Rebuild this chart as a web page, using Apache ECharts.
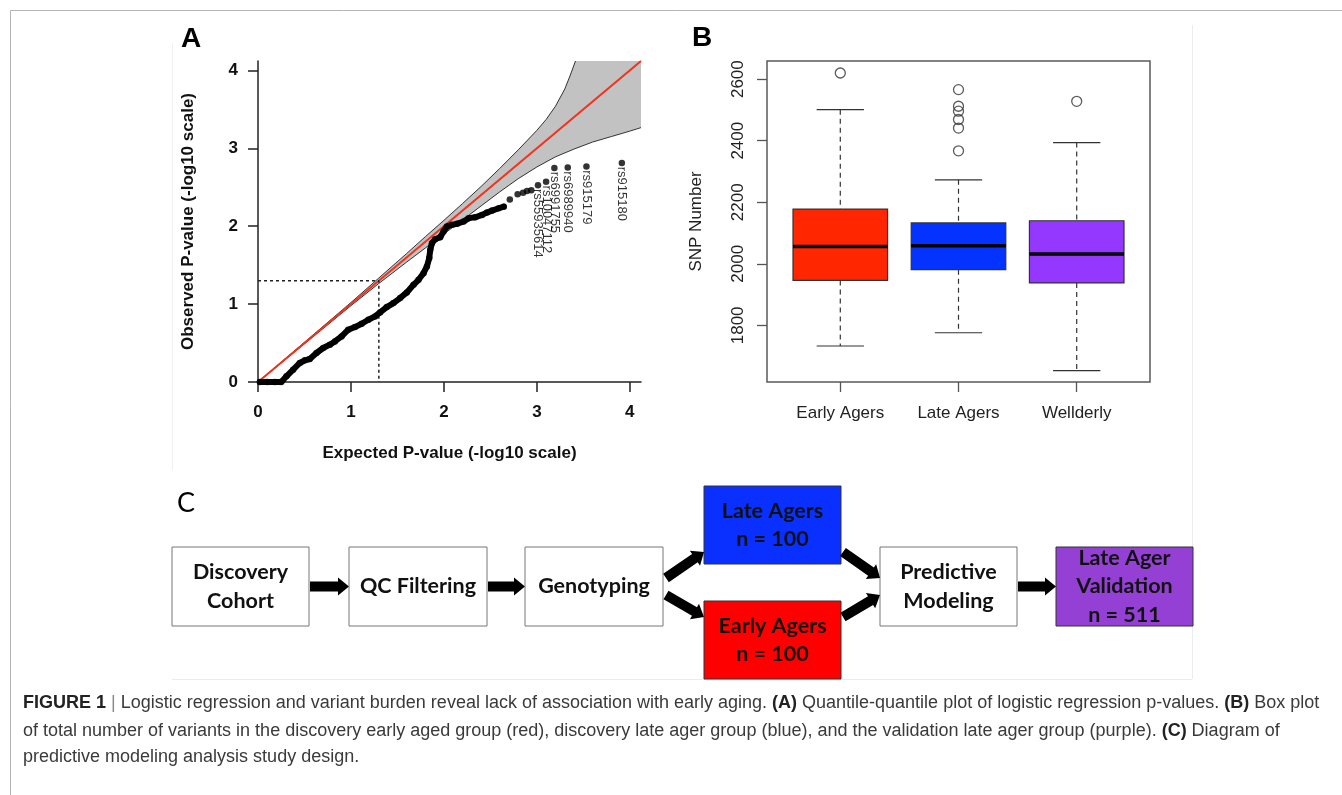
<!DOCTYPE html>
<html>
<head>
<meta charset="utf-8">
<title>Figure 1</title>
<script src="https://cdn.jsdelivr.net/npm/echarts@6/dist/echarts.min.js"></script>
<style>
  html, body { margin: 0; padding: 0; background: #fff; }
  #main { width: 1342px; height: 795px; }
</style>
</head>
<body>
<div id="main"></div>
<script>
// ---- A: QQ plot (-log10 p) ----
var qqExpected = [0.02, 0.1, 0.18, 0.25, 0.306, 0.378, 0.45, 0.504, 0.557, 0.629, 0.701, 0.773, 0.827, 0.899,
  0.971, 1.043, 1.115, 1.187, 1.259, 1.313, 1.385, 1.457, 1.529, 1.601, 1.673, 1.727, 1.781, 1.817, 1.842,
  1.853, 1.871, 1.906, 1.96, 1.996, 2.032, 2.086, 2.14, 2.212, 2.266, 2.338, 2.41, 2.464, 2.518, 2.59, 2.644];
var qqObserved = [0, 0, 0, 0, 0.073, 0.158, 0.244, 0.278, 0.295, 0.372, 0.436, 0.479, 0.521, 0.585,
  0.671, 0.705, 0.748, 0.799, 0.842, 0.893, 0.962, 1.013, 1.077, 1.15, 1.248, 1.312, 1.397, 1.483, 1.59,
  1.697, 1.782, 1.833, 1.859, 1.932, 1.996, 2.017, 2.03, 2.06, 2.103, 2.115, 2.145, 2.175, 2.2, 2.23, 2.25];
var tailExpected = [2.709, 2.793, 2.851, 2.894, 2.94];
var tailObserved = [2.343, 2.411, 2.428, 2.453, 2.462];
var snpIds = ['rs55935614', 'rs10047112', 'rs6991755', 'rs6989940', 'rs915179', 'rs915180'];
var snpExpected = [3.012, 3.099, 3.188, 3.332, 3.533, 3.914];
var snpObserved = [2.526, 2.569, 2.748, 2.753, 2.766, 2.812];
var bandUpper = [[0, 0], [0.5, 0.51], [1.0, 1.02], [1.3, 1.335], [1.6, 1.65], [1.8, 1.865], [2.0, 2.075],
  [2.2, 2.29], [2.4, 2.51], [2.6, 2.74], [2.8, 2.98], [3.0, 3.23], [3.1, 3.37], [3.2, 3.54], [3.3, 3.76],
  [3.36, 3.94], [3.415, 4.12]];
var bandLower = [[0, 0], [0.5, 0.49], [1.0, 0.98], [1.3, 1.265], [1.6, 1.54], [1.8, 1.72], [2.0, 1.9],
  [2.2, 2.08], [2.4, 2.26], [2.6, 2.44], [2.8, 2.61], [3.0, 2.76], [3.2, 2.89], [3.4, 2.99], [3.6, 3.08],
  [3.8, 3.15], [4.0, 3.22], [4.12, 3.265]];
var ticksA = [0, 1, 2, 3, 4];
var maxA = 4.12;
var pCut = 1.3;   // -log10(0.05)

// ---- B: SNP number per group ----
var groups = ['Early Agers', 'Late Agers', 'Wellderly'];
var whiskerLow = [1733, 1776, 1653];
var quartile1 = [1946, 1981, 1938];
var medians = [2056, 2059, 2032];
var quartile3 = [2178, 2133, 2140];
var whiskerHigh = [2501, 2273, 2394];
var outliers = [[2620], [2566, 2512, 2496, 2469, 2441, 2367], [2528]];
var boxColors = ['#ff2600', '#0433ff', '#9437ff'];
var ticksB = [1800, 2000, 2200, 2400, 2600];

var FONT = 'Liberation Sans, Arial, sans-serif';

var chart = echarts.init(document.getElementById('main'));

var qqPoints = qqExpected.map(function (x, i) { return [x, qqObserved[i]]; });
var tailPoints = tailExpected.map(function (x, i) { return [x, tailObserved[i]]; });
var snpPoints = snpIds.map(function (id, i) { return { name: id, value: [snpExpected[i], snpObserved[i]] }; });
var boxData = groups.map(function (g, i) {
  return [i + 1, whiskerLow[i], quartile1[i], medians[i], quartile3[i], whiskerHigh[i]];
});
var outlierData = [];
outliers.forEach(function (list, i) {
  list.forEach(function (v) { outlierData.push([i + 1, v]); });
});

// flowchart helpers (panel C)
function arrow(x1, y1, x2, y2) {
  var dx = x2 - x1, dy = y2 - y1, len = Math.sqrt(dx * dx + dy * dy);
  var ux = dx / len, uy = dy / len, nx = -uy, ny = ux;
  var hl = 11, sw = 5, hw = 9;
  var bx = x2 - ux * hl, by = y2 - uy * hl;
  return {
    type: 'polygon',
    shape: { points: [[x1 + nx * sw, y1 + ny * sw], [bx + nx * sw, by + ny * sw], [bx + nx * hw, by + ny * hw],
      [x2, y2], [bx - nx * hw, by - ny * hw], [bx - nx * sw, by - ny * sw], [x1 - nx * sw, y1 - ny * sw]] },
    style: { fill: '#000' }
  };
}
function box(x, y, w, h, fill, stroke, text) {
  return [{
    type: 'rect', shape: { x: x, y: y, width: w, height: h },
    style: { fill: fill, stroke: stroke, lineWidth: 1 }
  }, {
    type: 'text', x: x + w / 2, y: y + h / 2,
    style: { text: text, fill: '#111', fontFamily: 'Lato, sans-serif', fontWeight: 'bold', fontSize: 21.5,
      lineHeight: 28.5, align: 'center', verticalAlign: 'middle' }
  }];
}
function captionLine(y, text) {
  return {
    type: 'text', x: 23, y: y,
    style: {
      text: text, fontFamily: FONT, fontSize: 18, fill: '#3a3a3a', verticalAlign: 'middle',
      rich: {
        b: { fontFamily: FONT, fontSize: 18, fontWeight: 'bold', fill: '#222' },
        s: { fontFamily: FONT, fontSize: 18, fill: '#888' }
      }
    }
  };
}

var graphics = [
  { type: 'line', shape: { x1: 10.5, y1: 10.5, x2: 1342, y2: 10.5 }, style: { stroke: '#b4b4b4', lineWidth: 1 } },
  { type: 'line', shape: { x1: 10.5, y1: 10.5, x2: 10.5, y2: 795 }, style: { stroke: '#b4b4b4', lineWidth: 1 } },
  { type: 'line', shape: { x1: 172.5, y1: 43, x2: 172.5, y2: 470 }, style: { stroke: '#f0f0f0', lineWidth: 1 } },
  { type: 'line', shape: { x1: 1192.5, y1: 25, x2: 1192.5, y2: 679 }, style: { stroke: '#ececec', lineWidth: 1 } },
  { type: 'line', shape: { x1: 172, y1: 679.5, x2: 1192, y2: 679.5 }, style: { stroke: '#ececec', lineWidth: 1 } },
  { type: 'text', x: 191, y: 39, style: { text: 'A', fontFamily: FONT, fontWeight: 'bold', fontSize: 28,
    fill: '#000', align: 'center', verticalAlign: 'middle' } },
  { type: 'text', x: 702, y: 38, style: { text: 'B', fontFamily: FONT, fontWeight: 'bold', fontSize: 28,
    fill: '#000', align: 'center', verticalAlign: 'middle' } },
  { type: 'text', x: 186, y: 503, style: { text: 'C', fontFamily: 'Lato, sans-serif', fontSize: 27,
    fill: '#000', align: 'center', verticalAlign: 'middle' } }
];
graphics = graphics
  .concat(box(172, 547, 137, 79, '#fff', '#777', 'Discovery\nCohort'))
  .concat(box(349, 547, 138, 79, '#fff', '#777', 'QC Filtering'))
  .concat(box(525, 547, 138, 79, '#fff', '#777', 'Genotyping'))
  .concat(box(704, 486, 137, 78, '#0a30ff', '#333', 'Late Agers\nn = 100'))
  .concat(box(704, 601, 137, 78, '#ff0000', '#333', 'Early Agers\nn = 100'))
  .concat(box(880, 547, 137, 79, '#fff', '#777', 'Predictive\nModeling'))
  .concat(box(1056, 547, 137, 79, '#9440d4', '#333', 'Late Ager\nValidation\nn = 511'))
  .concat([
    arrow(310, 586.5, 349, 586.5),
    arrow(488, 586.5, 525, 586.5),
    arrow(666, 578, 704, 552),
    arrow(666, 595, 704, 617),
    arrow(843, 552, 880, 578),
    arrow(843, 617, 880, 595),
    arrow(1018, 586.5, 1056, 586.5),
    captionLine(703, '{b|FIGURE 1} {s||} Logistic regression and variant burden reveal lack of association with early aging. {b|(A)} Quantile-quantile plot of logistic regression p-values. {b|(B)} Box plot'),
    captionLine(731, 'of total number of variants in the discovery early aged group (red), discovery late ager group (blue), and the validation late ager group (purple). {b|(C)} Diagram of'),
    captionLine(757, 'predictive modeling analysis study design.')
  ]);

var axisA = {
  axisLine: { lineStyle: { color: '#222', width: 1.5 } },
  axisTick: { length: 10, customValues: ticksA, lineStyle: { color: '#222', width: 1.5 } },
  axisLabel: { customValues: ticksA, fontFamily: FONT, fontSize: 17, fontWeight: 'bold', color: '#111' },
  splitLine: { show: false },
  nameLocation: 'middle',
  nameTextStyle: { fontFamily: FONT, fontSize: 17, fontWeight: 'bold', color: '#111' }
};

option = {
  animation: false,
  backgroundColor: '#fff',
  graphic: { elements: graphics },
  grid: [
    { left: 258, top: 61, width: 383, height: 321 },
    { left: 767, top: 61, width: 383, height: 321, show: true, borderColor: '#5a5a5a', borderWidth: 1.5 }
  ],
  xAxis: [
    Object.assign({}, axisA, {
      gridIndex: 0, type: 'value', min: 0, max: maxA,
      name: 'Expected P-value (-log10 scale)', nameGap: 63,
      axisLabel: Object.assign({}, axisA.axisLabel, { margin: 22 })
    }),
    {
      gridIndex: 1, type: 'value', min: 0.38, max: 3.62,
      axisLine: { show: false },
      axisTick: { length: 10, customValues: [1, 2, 3], lineStyle: { color: '#555', width: 1.3 } },
      axisLabel: {
        customValues: [1, 2, 3], margin: 23, fontFamily: FONT, fontSize: 17, color: '#222',
        formatter: function (v) { return groups[Math.round(v) - 1]; }
      },
      splitLine: { show: false }
    }
  ],
  yAxis: [
    Object.assign({}, axisA, {
      gridIndex: 0, type: 'value', min: 0, max: maxA,
      name: 'Observed P-value (-log10 scale)', nameGap: 61,
      axisLabel: Object.assign({}, axisA.axisLabel, { margin: 20 })
    }),
    {
      gridIndex: 1, type: 'value', min: 1616, max: 2659,
      name: 'SNP Number', nameLocation: 'middle', nameGap: 62,
      nameTextStyle: { fontFamily: FONT, fontSize: 17, color: '#222' },
      axisLine: { show: false },
      axisTick: { length: 10, customValues: ticksB, lineStyle: { color: '#555', width: 1.3 } },
      axisLabel: {
        customValues: ticksB, rotate: 90, margin: 20, fontFamily: FONT, fontSize: 17, color: '#222',
        formatter: function (v) { return String(v); }
      },
      splitLine: { show: false }
    }
  ],
  series: [
    // confidence band
    {
      type: 'custom', xAxisIndex: 0, yAxisIndex: 0, silent: true, z: 1,
      data: [[0, 0]],
      renderItem: function (params, api) {
        var pts = bandUpper.concat([[maxA, maxA]]).concat(bandLower.slice().reverse())
          .map(function (p) { return api.coord(p); });
        return { type: 'polygon', shape: { points: pts }, style: { fill: '#c2c2c2' } };
      }
    },
    {
      type: 'line', xAxisIndex: 0, yAxisIndex: 0, data: bandUpper, symbol: 'none', silent: true, z: 2,
      lineStyle: { color: '#333', width: 1 }
    },
    {
      type: 'line', xAxisIndex: 0, yAxisIndex: 0, data: bandLower, symbol: 'none', silent: true, z: 2,
      lineStyle: { color: '#333', width: 1 }
    },
    // y = x reference
    {
      type: 'line', xAxisIndex: 0, yAxisIndex: 0, data: [[0, 0], [maxA, maxA]], symbol: 'none', z: 3,
      lineStyle: { color: '#f2321e', width: 2 }
    },
    // p = 0.05 guide
    {
      type: 'line', xAxisIndex: 0, yAxisIndex: 0, data: [[0, pCut], [pCut, pCut], [pCut, 0]], symbol: 'none', z: 3,
      lineStyle: { color: '#222', width: 1.5, type: [3, 3] }
    },
    // observed points
    {
      type: 'line', xAxisIndex: 0, yAxisIndex: 0, data: qqPoints, symbol: 'none', z: 4,
      lineStyle: { color: '#000', width: 6, cap: 'round', join: 'round' }
    },
    {
      type: 'scatter', xAxisIndex: 0, yAxisIndex: 0, data: qqPoints.concat(tailPoints), symbolSize: 6.5, z: 4,
      itemStyle: { color: '#000' }
    },
    {
      type: 'scatter', xAxisIndex: 0, yAxisIndex: 0, data: snpPoints, symbolSize: 6.5, z: 4,
      itemStyle: { color: '#000' },
      label: {
        show: true, formatter: '{b}', rotate: -90, position: [3.25, 7], align: 'left', verticalAlign: 'middle',
        fontFamily: FONT, fontSize: 13, color: '#000'
      }
    },
    // B: boxes
    {
      type: 'custom', xAxisIndex: 1, yAxisIndex: 1, data: boxData,
      encode: { x: 0, y: [1, 2, 3, 4, 5] },
      renderItem: function (params, api) {
        var x = api.value(0);
        var lo = api.value(1), q1 = api.value(2), md = api.value(3), q3 = api.value(4), hi = api.value(5);
        var a = api.coord([x - 0.4, q3]), b = api.coord([x + 0.4, q1]);
        var c = api.coord([x, hi]), d = api.coord([x, lo]);
        var capL = api.coord([x - 0.2, hi])[0], capR = api.coord([x + 0.2, hi])[0];
        var mY = api.coord([x, md])[1];
        var dash = { stroke: '#333', lineWidth: 1.2, lineDash: [5, 4] };
        var solid = { stroke: '#333', lineWidth: 1.2 };
        return {
          type: 'group',
          children: [
            { type: 'line', shape: { x1: c[0], y1: c[1], x2: c[0], y2: a[1] }, style: dash },
            { type: 'line', shape: { x1: d[0], y1: b[1], x2: d[0], y2: d[1] }, style: dash },
            { type: 'line', shape: { x1: capL, y1: c[1], x2: capR, y2: c[1] }, style: solid },
            { type: 'line', shape: { x1: capL, y1: d[1], x2: capR, y2: d[1] }, style: solid },
            { type: 'rect', shape: { x: a[0], y: a[1], width: b[0] - a[0], height: b[1] - a[1] },
              style: { fill: boxColors[params.dataIndex], stroke: '#333', lineWidth: 1.2 } },
            { type: 'line', shape: { x1: a[0], y1: mY, x2: b[0], y2: mY }, style: { stroke: '#000', lineWidth: 3.5 } }
          ]
        };
      }
    },
    {
      type: 'scatter', xAxisIndex: 1, yAxisIndex: 1, data: outlierData, symbolSize: 10,
      itemStyle: { color: 'rgba(0,0,0,0)', borderColor: '#333', borderWidth: 1.3 }
    }
  ]
};

chart.setOption(option);
</script>
</body>
</html>
